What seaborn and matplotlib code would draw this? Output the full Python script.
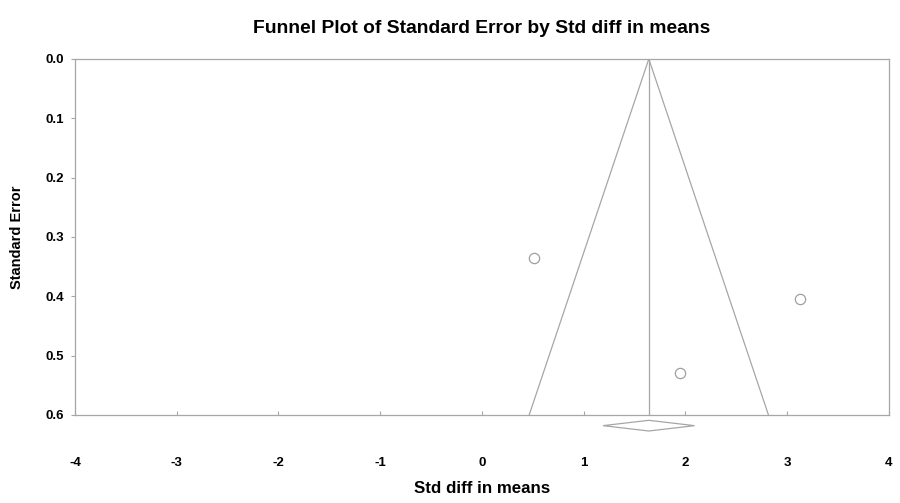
import numpy as np
import pandas as pd
import matplotlib
matplotlib.use("Agg")
import matplotlib.pyplot as plt
import seaborn as sns

# study data
std_diff = [0.51, 1.95, 3.13]
std_err = [0.335, 0.53, 0.405]

# summary effect and its confidence interval
summary_effect = 1.64
summary_lower = 1.19
summary_upper = 2.09

x_ticks = [-4, -3, -2, -1, 0, 1, 2, 3, 4]
y_ticks = [0.0, 0.1, 0.2, 0.3, 0.4, 0.5, 0.6]
se_max = 0.6

sns.set_style("white")
plt.rcParams['font.family'] = ['Liberation Sans', 'DejaVu Sans']
plt.rcParams['font.weight'] = 'bold'
plt.rcParams['text.color'] = 'black'
plt.rcParams['axes.labelcolor'] = 'black'
plt.rcParams['xtick.labelcolor'] = 'black'
plt.rcParams['ytick.labelcolor'] = 'black'

df = pd.DataFrame({"Std diff in means": std_diff, "Standard Error": std_err})

fig = plt.figure(figsize=(9, 5.03), dpi=100)
ax = fig.add_axes([0.0833, 0.175, 0.9044, 0.7078])

line_col = "#a6a6a6"

# funnel: pseudo 95% limits around the summary effect
funnel = pd.DataFrame({
    "x": [summary_effect - 1.96 * se_max, summary_effect, summary_effect + 1.96 * se_max],
    "y": [se_max, 0.0, se_max],
})
ax.plot(funnel["x"], funnel["y"], color=line_col, lw=0.9)
ax.plot([summary_effect, summary_effect], [0.0, se_max], color=line_col, lw=0.9)

sns.scatterplot(data=df, x="Std diff in means", y="Standard Error", ax=ax,
                marker="o", s=55, facecolor="white", edgecolor="#a0a0a0",
                linewidth=0.9, zorder=3)

# summary diamond below the axis
dh = 0.009
dy = 0.618
ax.fill([summary_lower, summary_effect, summary_upper, summary_effect],
        [dy, dy - dh, dy, dy + dh], facecolor="white", edgecolor=line_col,
        lw=0.9, clip_on=False, zorder=4)

ax.set_xlim(-4, 4)
ax.set_ylim(0.6, 0.0)
ax.set_xticks(x_ticks)
ax.set_xticklabels([str(t) for t in x_ticks])
ax.set_yticks(y_ticks)
ax.set_yticklabels([f"{t:.1f}" for t in y_ticks])

for s in ax.spines.values():
    s.set_color(line_col)
    s.set_linewidth(0.9)

ax.tick_params(axis="x", bottom=True, direction="in", length=3, color=line_col,
               width=0.8, pad=30, labelsize=9.5)
ax.tick_params(axis="y", left=True, direction="out", length=3, color=line_col,
               width=0.8, pad=5, labelsize=9.5)
for lbl in ax.get_xticklabels() + ax.get_yticklabels():
    lbl.set_fontweight("bold")

ax.set_xlabel("Std diff in means", fontsize=12.2, fontweight="bold", labelpad=9)
ax.set_ylabel("Standard Error", fontsize=10.5, fontweight="bold", labelpad=15)
ax.set_title("Funnel Plot of Standard Error by Std diff in means",
             fontsize=13.9, fontweight="bold", pad=19)

fig.savefig("out.png", dpi=100, facecolor="white")
